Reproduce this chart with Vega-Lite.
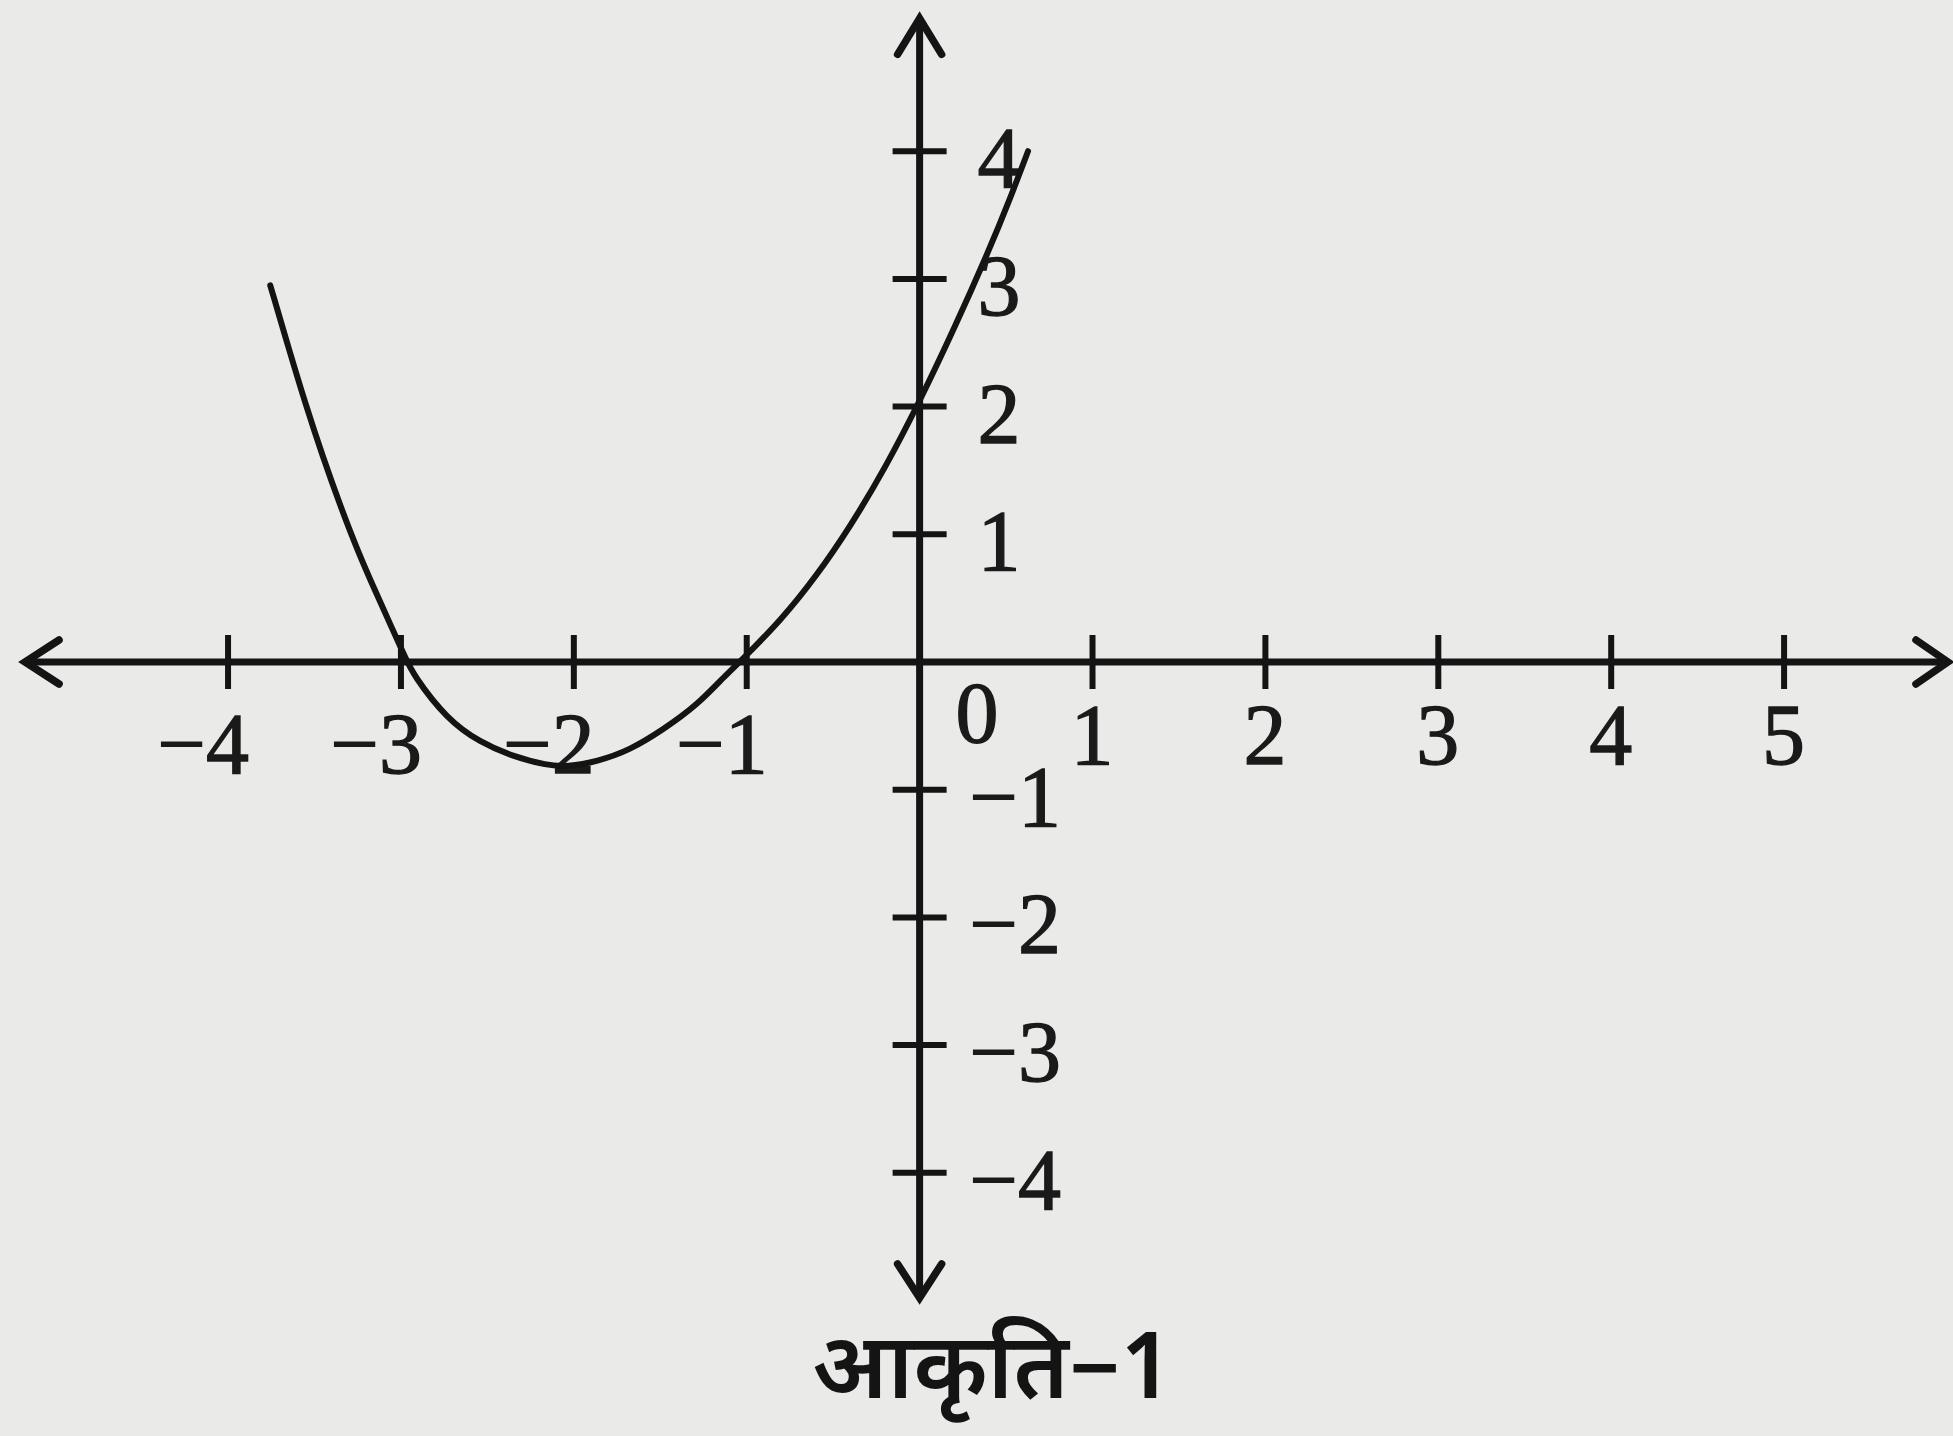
{
  "$schema": "https://vega.github.io/schema/vega-lite/v6.json",
  "width": 1953,
  "height": 1436,
  "autosize": "none",
  "padding": 0,
  "background": "#eaeae8",
  "config": {"view": {"stroke": null}},
  "datasets": {
    "curve": [
      {"x": -3.756, "y": 2.95}, {"x": -3.65, "y": 2.46}, {"x": -3.55, "y": 2.01},
      {"x": -3.45, "y": 1.6}, {"x": -3.35, "y": 1.22}, {"x": -3.25, "y": 0.87},
      {"x": -3.15, "y": 0.56}, {"x": -3.05, "y": 0.26}, {"x": -2.98, "y": 0.05},
      {"x": -2.93, "y": -0.1}, {"x": -2.733, "y": -0.45},
      {"x": -2.542, "y": -0.63}, {"x": -2.352, "y": -0.74}, {"x": -2.155, "y": -0.81},
      {"x": -2.04, "y": -0.82}, {"x": -1.866, "y": -0.78}, {"x": -1.675, "y": -0.69},
      {"x": -1.484, "y": -0.53}, {"x": -1.288, "y": -0.34}, {"x": -1.12, "y": -0.1},
      {"x": -1.04, "y": 0.0}, {"x": -0.8, "y": 0.33}, {"x": -0.6, "y": 0.667},
      {"x": -0.4, "y": 1.063}, {"x": -0.2, "y": 1.516}, {"x": 0.0, "y": 2.04},
      {"x": 0.2, "y": 2.61}, {"x": 0.4, "y": 3.22}, {"x": 0.515, "y": 3.6},
      {"x": 0.627, "y": 4.0}
    ],
    "axes": [
      {"x": -5.174, "x2": 5.948, "y": 0, "y2": 0},
      {"x": 0, "x2": 0, "y": 5.04, "y2": -4.98}
    ],
    "arrows": [
      {"dir": "left", "x": -5.174, "y": 0},
      {"dir": "right", "x": 5.948, "y": 0},
      {"dir": "up", "x": 0, "y": 5.04},
      {"dir": "down", "x": 0, "y": -4.98}
    ],
    "xticks": [
      {"v": -4, "label": "−4"}, {"v": -3, "label": "−3"}, {"v": -2, "label": "−2"},
      {"v": -1, "label": "−1"}, {"v": 1, "label": "1"}, {"v": 2, "label": "2"},
      {"v": 3, "label": "3"}, {"v": 4, "label": "4"}, {"v": 5, "label": "5"}
    ],
    "yticks": [
      {"v": 4, "label": "4"}, {"v": 3, "label": "3"}, {"v": 2, "label": "2"},
      {"v": 1, "label": "1"}, {"v": -1, "label": "−1"}, {"v": -2, "label": "−2"},
      {"v": -3, "label": "−3"}, {"v": -4, "label": "−4"}
    ],
    "notes": [
      {"kind": "origin", "label": "0", "x": 0, "y": 0},
      {"kind": "caption", "label": "आकृति−1", "x": 0.42, "y": -5.76}
    ]
  },
  "encoding": {
    "x": {"type": "quantitative", "scale": {"domain": [-5.319, 5.977], "nice": false, "zero": false}, "axis": null},
    "y": {"type": "quantitative", "scale": {"domain": [-6.061, 5.184], "nice": false, "zero": false}, "axis": null}
  },
  "layer": [
    {
      "data": {"name": "axes"},
      "mark": {"type": "rule", "color": "#141414", "strokeWidth": 7},
      "encoding": {
        "x": {"field": "x", "type": "quantitative"},
        "x2": {"field": "x2"},
        "y": {"field": "y", "type": "quantitative"},
        "y2": {"field": "y2"}
      }
    },
    {
      "data": {"name": "arrows"},
      "mark": {"type": "point", "filled": false, "stroke": "#141414", "strokeWidth": 7.5, "size": 6400, "strokeCap": "round", "strokeJoin": "miter", "opacity": 1},
      "encoding": {
        "x": {"field": "x", "type": "quantitative"},
        "y": {"field": "y", "type": "quantitative"},
        "shape": {
          "field": "dir", "type": "nominal", "legend": null,
          "scale": {
            "domain": ["left", "right", "up", "down"],
            "range": ["M 0.85 -0.55 L 0 0 L 0.85 0.55", "M -0.8 -0.55 L 0 0 L -0.8 0.55", "M -0.55 0.9 L 0 0 L 0.55 0.9", "M -0.55 -0.85 L 0 0 L 0.55 -0.85"]
          }
        }
      }
    },
    {
      "data": {"name": "xticks"},
      "mark": {"type": "tick", "orient": "vertical", "size": 54, "thickness": 6, "color": "#141414", "opacity": 1},
      "encoding": {
        "x": {"field": "v", "type": "quantitative"},
        "y": {"datum": 0}
      }
    },
    {
      "data": {"name": "yticks"},
      "mark": {"type": "tick", "orient": "horizontal", "size": 54, "thickness": 6, "color": "#141414", "opacity": 1},
      "encoding": {
        "x": {"datum": 0},
        "y": {"field": "v", "type": "quantitative"}
      }
    },
    {
      "data": {"name": "xticks"},
      "transform": [{"filter": "datum.v < 0"}],
      "mark": {"type": "text", "font": "Liberation Serif", "fontSize": 86, "align": "right", "baseline": "alphabetic", "dx": 21, "dy": 111, "color": "#1a1a1a", "stroke": "#1a1a1a", "strokeWidth": 1.3},
      "encoding": {
        "x": {"field": "v", "type": "quantitative"},
        "y": {"datum": 0},
        "text": {"field": "label"}
      }
    },
    {
      "data": {"name": "xticks"},
      "transform": [{"filter": "datum.v > 0"}],
      "mark": {"type": "text", "font": "Liberation Serif", "fontSize": 86, "align": "right", "baseline": "alphabetic", "dx": 21, "dy": 102, "color": "#1a1a1a", "stroke": "#1a1a1a", "strokeWidth": 1.3},
      "encoding": {
        "x": {"field": "v", "type": "quantitative"},
        "y": {"datum": 0},
        "text": {"field": "label"}
      }
    },
    {
      "data": {"name": "yticks"},
      "transform": [{"filter": "datum.v > 0"}],
      "mark": {"type": "text", "font": "Liberation Serif", "fontSize": 86, "align": "left", "baseline": "alphabetic", "dx": 58, "dy": 36, "color": "#1a1a1a", "stroke": "#1a1a1a", "strokeWidth": 1.3},
      "encoding": {
        "x": {"datum": 0},
        "y": {"field": "v", "type": "quantitative"},
        "text": {"field": "label"}
      }
    },
    {
      "data": {"name": "yticks"},
      "transform": [{"filter": "datum.v < 0"}],
      "mark": {"type": "text", "font": "Liberation Serif", "fontSize": 86, "align": "left", "baseline": "alphabetic", "dx": 50, "dy": 36, "color": "#1a1a1a", "stroke": "#1a1a1a", "strokeWidth": 1.3},
      "encoding": {
        "x": {"datum": 0},
        "y": {"field": "v", "type": "quantitative"},
        "text": {"field": "label"}
      }
    },
    {
      "data": {"name": "notes"},
      "transform": [{"filter": "datum.kind === 'origin'"}],
      "mark": {"type": "text", "font": "Liberation Serif", "fontSize": 86, "align": "left", "baseline": "alphabetic", "dx": 36, "dy": 80, "color": "#1a1a1a", "stroke": "#1a1a1a", "strokeWidth": 1.3},
      "encoding": {
        "x": {"field": "x", "type": "quantitative"},
        "y": {"field": "y", "type": "quantitative"},
        "text": {"field": "label"}
      }
    },
    {
      "data": {"name": "notes"},
      "transform": [{"filter": "datum.kind === 'caption'"}],
      "mark": {"type": "text", "font": "Noto Sans Devanagari, Noto Sans, sans-serif", "fontSize": 92, "fontWeight": 600, "align": "center", "baseline": "alphabetic", "color": "#141414"},
      "encoding": {
        "x": {"field": "x", "type": "quantitative"},
        "y": {"field": "y", "type": "quantitative"},
        "text": {"field": "label"}
      }
    },
    {
      "data": {"name": "curve"},
      "mark": {"type": "line", "color": "#141414", "strokeWidth": 6, "interpolate": "basis", "strokeCap": "round"},
      "encoding": {
        "x": {"field": "x", "type": "quantitative"},
        "y": {"field": "y", "type": "quantitative"}
      }
    }
  ]
}
